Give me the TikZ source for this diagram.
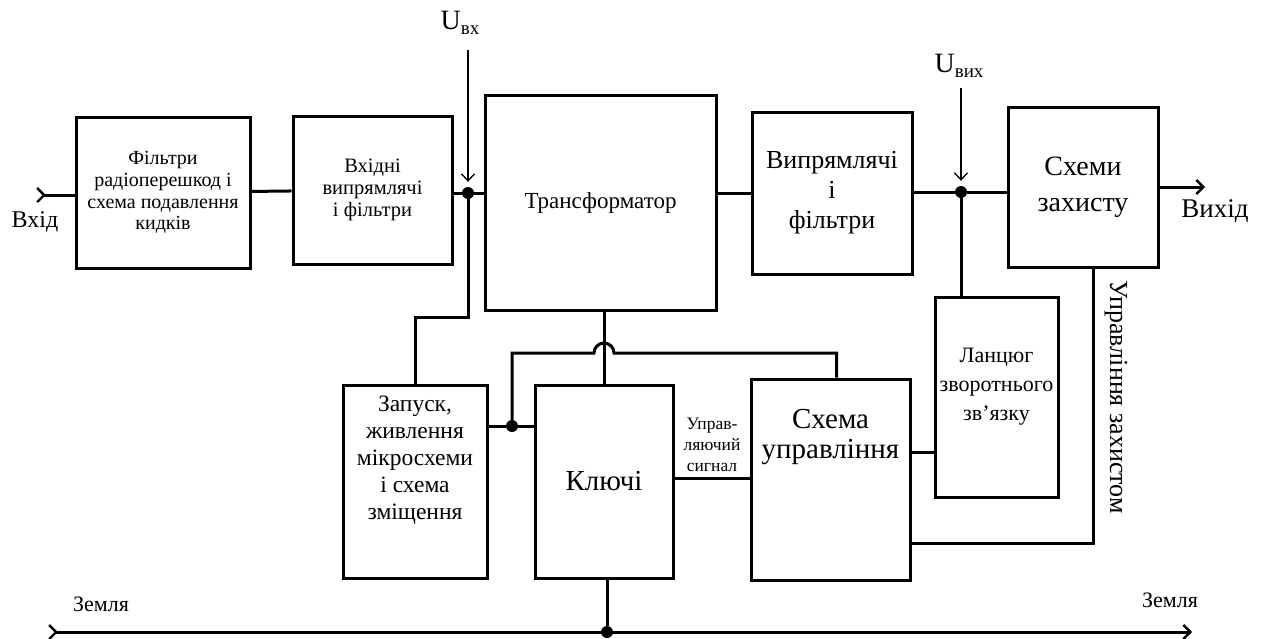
\documentclass[tikz,border=0pt]{standalone}
\usepackage{fontspec}
\setmainfont{Liberation Serif}
\usetikzlibrary{arrows.meta}

\begin{document}
\begin{tikzpicture}
[x=1pt,y=-1pt,
  block/.style={draw,line width=3pt,align=center,inner sep=2pt},%
  txt/.style={align=center,inner sep=0pt},%
  wire/.style={line width=3pt},%
  probe/.style={line width=1.3pt,-{Straight Barb[length=7pt,width=13pt]},shorten >=5pt},%
  dot/.style={circle,fill,inner sep=0pt,minimum size=12pt},%
  >={Straight Barb[length=7pt,width=14pt,line width=2.4pt]}]
\useasboundingbox (0,0) rectangle (1265,638);
%% blocks
\node[block,minimum width=174pt,minimum height=151pt,font=\fontsize{20}{21.7}\selectfont]
  (filt) at (163,192.5) {Фільтри\\радіоперешкод і\\схема подавлення\\кидків};
\node[block,minimum width=159pt,minimum height=148pt,font=\fontsize{20.5}{22}\selectfont]
  (inrect) at (372.5,190) {Вхідні\\випрямлячі\\і фільтри};
\node[block,minimum width=231pt,minimum height=215pt,font=\fontsize{23}{26}\selectfont]
  (trans) at (600.5,202.5) {Трансформатор};
\node[block,minimum width=160pt,minimum height=162pt,font=\fontsize{26}{30}\selectfont]
  (outrect) at (832,193) {Випрямлячі\\і\\фільтри};
\node[block,minimum width=150pt,minimum height=160pt,font=\fontsize{28}{36}\selectfont]
  (prot) at (1083,187) {Схеми\\захисту};
\node[block,minimum width=123pt,minimum height=200pt] (fb) at (996.5,397) {};
\node[txt,font=\fontsize{22}{29}\selectfont] (fb-t) at (996.5,387) {Ланцюг\\зворотнього\\зв’язку};
\node[block,minimum width=144pt,minimum height=193pt] (start) at (415,481.5) {};
\node[txt,font=\fontsize{23.5}{27}\selectfont] (start-t) at (415,460) {Запуск,\\живлення\\мікросхеми\\і схема\\зміщення};
\node[block,minimum width=138pt,minimum height=193pt,font=\fontsize{29}{32}\selectfont]
  (keys) at (604,481.5) {Ключі};
\node[block,minimum width=159pt,minimum height=201pt] (ctrl) at (830.5,479.5) {};
\node[txt,font=\fontsize{29}{30}\selectfont] (ctrl-t) at (830.5,437) {Схема\\управління};

%% junctions and free ends
\foreach \nodename/\x/\y in {jin/468/193, jout/961/192, jk/512/426, jg/607/632} {
  \node[dot] (\nodename) at (\x,\y) {};
}
\coordinate (in) at (36,195);
\coordinate (out) at (1205,187);
\coordinate (uin-a) at (468,50);
\coordinate (uout-a) at (961,88);
\coordinate (g-l) at (48,632);
\coordinate (g-r) at (1192,632);

%% labels
\node[font=\fontsize{24}{26}\selectfont] (in-l) at (35,222) {Вхід};
\node[font=\fontsize{27}{30}\selectfont] (out-l) at (1215,211) {Вихід};
\node[font=\fontsize{28}{30}\selectfont] (uin) at (460,23) {U\raisebox{-5pt}{\fontsize{19}{19}\selectfont вх}};
\node[font=\fontsize{28}{30}\selectfont] (uout) at (959,66) {U\raisebox{-5pt}{\fontsize{19}{19}\selectfont вих}};
\node[font=\fontsize{22}{24}\selectfont] (g-l-t) at (101,604) {Земля};
\node[font=\fontsize{22}{24}\selectfont] (g-r-t) at (1170,600) {Земля};
\node[txt,font=\fontsize{17.5}{21}\selectfont] (sig) at (712,445) {Управ-\\ляючий\\сигнал};
\node[font=\fontsize{26}{30}\selectfont,rotate=-90] (pc) at (1116,397) {Управління захистом};

%% connections
\draw[wire,>-] (in) -- (in -| filt.west);
\draw[wire] (filt) -- (inrect);
\draw[wire] (inrect.east |- jin) -- (jin) -- (jin -| trans.west);
\draw[wire] (outrect.west -| trans.east) -- (outrect.west);
\draw[wire] (outrect.east |- jout) -- (jout) -- (jout -| prot.west);
\draw[wire,->] (prot.east |- out) -- (out);
\draw[probe] (uin-a) -- (jin);
\draw[probe] (uout-a) -- (jout);
\draw[wire] (jin) |- (start.north |- 0,317) -- (start.north);
\draw[wire] (keys.north |- trans.south) -- (keys.north);
\draw[wire] (start.east |- jk) -- (jk) -- (keys.west |- jk);
\draw[wire] (jk) |- ([xshift=-10pt]keys.north |- 0,353)
  arc[start angle=180,end angle=0,radius=10pt] -| ([xshift=6pt]ctrl.north);
\draw[wire] (keys.east |- 0,478) -- (ctrl.west |- 0,478);
\draw[wire] (ctrl.east |- 0,452) -- (fb.west |- 0,452);
\draw[wire] (jout) -- (jout |- fb.north);
\draw[wire] ([xshift=10pt]prot.south) |- (ctrl.east |- 0,543);
\draw[wire] (keys.south -| jg) -- (jg);
\draw[wire,>->] (g-l) -- (g-r);
\end{tikzpicture}
\end{document}
